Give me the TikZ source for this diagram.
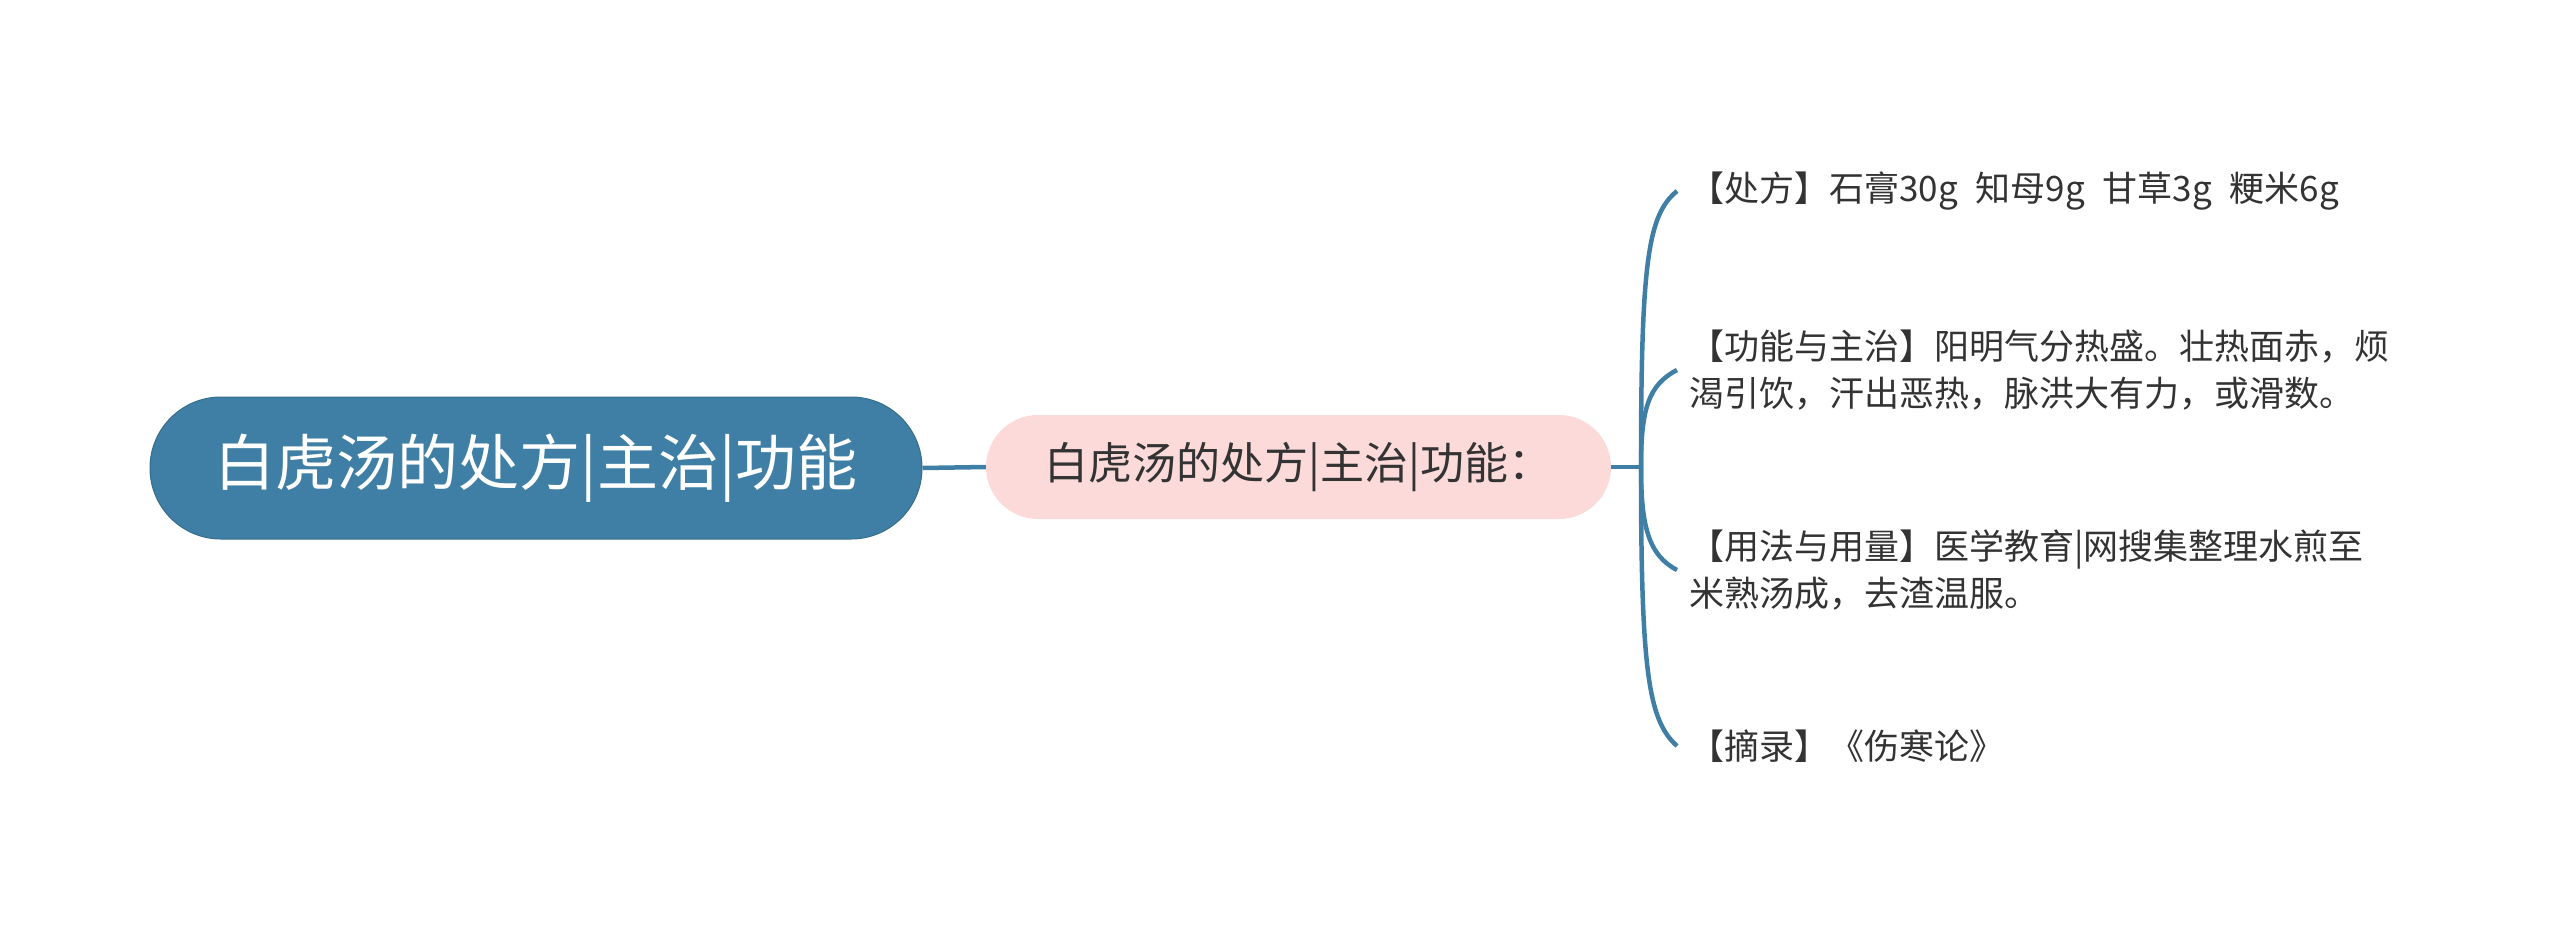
\documentclass[tikz,border=0pt]{standalone}
\usepackage{fontspec}
\newfontfamily\cjk{Noto Sans CJK SC}
\definecolor{mblue}{HTML}{3F7FA5}
\definecolor{mpink}{HTML}{FCDADA}
\definecolor{mtext}{HTML}{333333}
\begin{document}
\begin{tikzpicture}[x=1pt,y=-1pt,
  rootbox/.style={fill=mblue, draw=mblue!85!black, line width=1pt, rounded corners=71pt, minimum width=772pt, minimum height=142pt, text=white, font=\cjk\fontsize{61}{73}\selectfont, inner sep=0pt},
  midbox/.style={fill=mpink, rounded corners=52pt, minimum width=625pt, minimum height=104pt, text=mtext, font=\cjk\fontsize{44}{52}\selectfont, inner sep=0pt},
  leaf/.style={anchor=west, text=mtext, font=\cjk\fontsize{35}{47}\selectfont, align=left, inner xsep=12pt, inner ysep=0pt},
  link/.style={draw=mblue, line width=4.5pt}]
\useasboundingbox (0,0) rectangle (2560,935);
\node[rootbox] (root) at (536,468) {白虎汤的处方|主治|功能};
\node[midbox] (mid) at (1298.5,467) {白虎汤的处方|主治|功能：};
\node[leaf] (c1) at (1677,191) {【处方】石膏30g\hspace{10pt} 知母9g\hspace{10pt} 甘草3g\hspace{10pt} 粳米6g};
\node[leaf] (c2) at (1677,370) {【功能与主治】阳明气分热盛。壮热面赤，烦\\渴引饮，汗出恶热，脉洪大有力，或滑数。};
\node[leaf] (c3) at (1677,570) {【用法与用量】医学教育|网搜集整理水煎至\\米熟汤成，去渣温服。};
\node[leaf] (c4) at (1677,746) {【摘录】《伤寒论》};
\coordinate (j) at (1641,467);
\draw[link] (root.east) -- (mid.west);
\draw[link] (mid.east) -- (j);
\draw[link] (j) .. controls (1641,260) and (1648,215) .. (c1.west);
\draw[link] (j) .. controls (1641,410) and (1648,385) .. (c2.west);
\draw[link] (j) .. controls (1641,525) and (1648,555) .. (c3.west);
\draw[link] (j) .. controls (1641,670) and (1648,720) .. (c4.west);
\end{tikzpicture}
\end{document}
